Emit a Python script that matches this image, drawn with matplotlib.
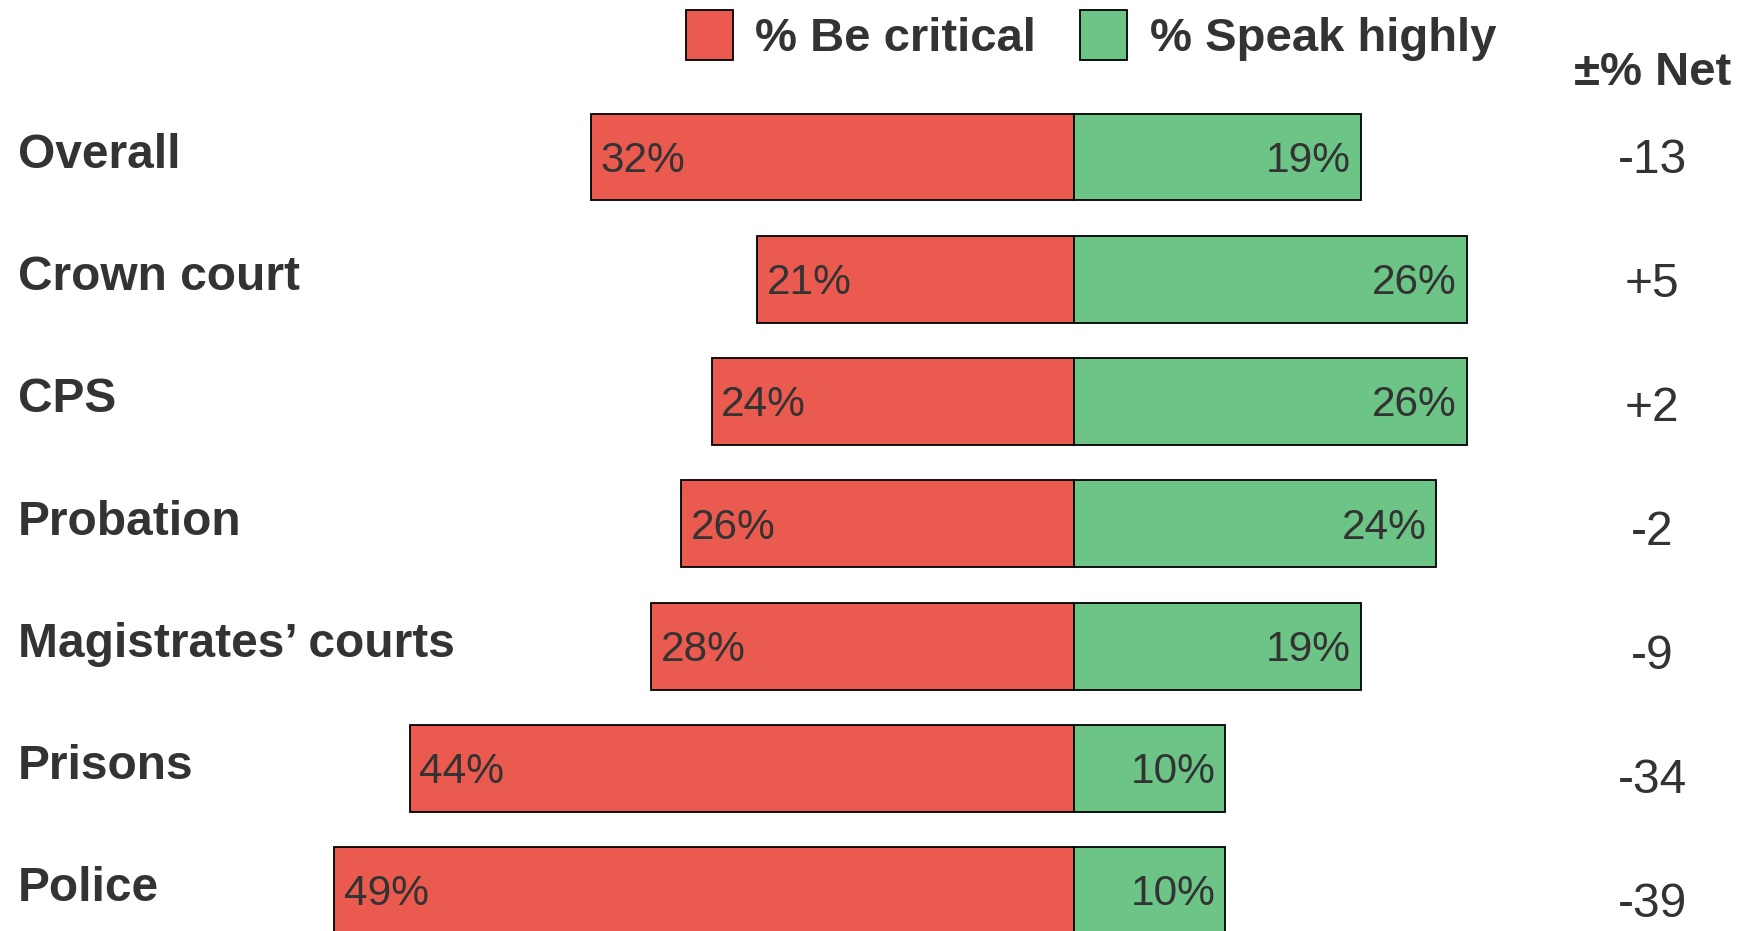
import matplotlib.pyplot as plt
import numpy as np

plt.rcParams['font.family'] = ['Liberation Sans', 'DejaVu Sans']

categories = ['Overall', 'Crown court', 'CPS', 'Probation',
              'Magistrates\u2019 courts', 'Prisons', 'Police']
critical = [32, 21, 24, 26, 28, 44, 49]
speak_highly = [19, 26, 26, 24, 19, 10, 10]

red = '#EB5A4F'
green = '#6CC586'
txt = '#333333'

W, H = 1747, 931
fig = plt.figure(figsize=(W / 100, H / 100), dpi=100)
ax = fig.add_axes([0, 0, 1, 1])

# pixel geometry
zero_px, px_per_pct = 1074, 15.1
row0_px, row_px = 157, 122.3
ax.set_xlim(-zero_px / px_per_pct, (W - zero_px) / px_per_pct)
ax.set_ylim((H - row0_px) / row_px, -row0_px / row_px)
ax.axis('off')

y = np.arange(len(categories))
crit = np.array(critical)
high = np.array(speak_highly)

ax.barh(y, -crit, height=0.71, color=red, edgecolor='black', linewidth=1.3,
        label='% Be critical')
ax.barh(y, high, height=0.71, color=green, edgecolor='black', linewidth=1.3,
        label='% Speak highly')

ytr = ax.get_yaxis_transform()
for i in range(len(categories)):
    ax.annotate(f'{crit[i]}%', (-crit[i], y[i] + 0.03), xytext=(7, 0), textcoords='offset points',
                ha='left', va='center', fontsize=30.5, color=txt)
    ax.annotate(f'{high[i]}%', (high[i], y[i] + 0.03), xytext=(-7, 0), textcoords='offset points',
                ha='right', va='center', fontsize=30.5, color=txt)
    ax.text(18 / W, y[i] - 0.015, categories[i], transform=ytr,
            ha='left', va='center', fontsize=34.5, fontweight='bold', color=txt)
    net = high[i] - crit[i]
    # the net column sits a touch lower as it goes down
    ax.text(1652 / W, y[i] * 1.014 + 0.03, f'{net:+d}', transform=ytr,
            ha='center', va='center', fontsize=34.5, color=txt)

ax.text(1653 / W, -0.685, '\u00b1% Net', transform=ytr,
        ha='center', va='center', fontsize=34, fontweight='bold', color=txt)

leg = fig.legend(loc='upper left', bbox_to_anchor=(686 / W, 1 - 10 / H), ncol=2,
                 frameon=False, fontsize=34, handlelength=1.0, handleheight=1.24,
                 handletextpad=0.47, columnspacing=0.93, borderpad=0, borderaxespad=0)
for t in leg.get_texts():
    t.set_color(txt)
    t.set_fontweight('bold')
for p in leg.get_patches():
    p.set_linewidth(1.3)

fig.savefig('out.png', dpi=100)
